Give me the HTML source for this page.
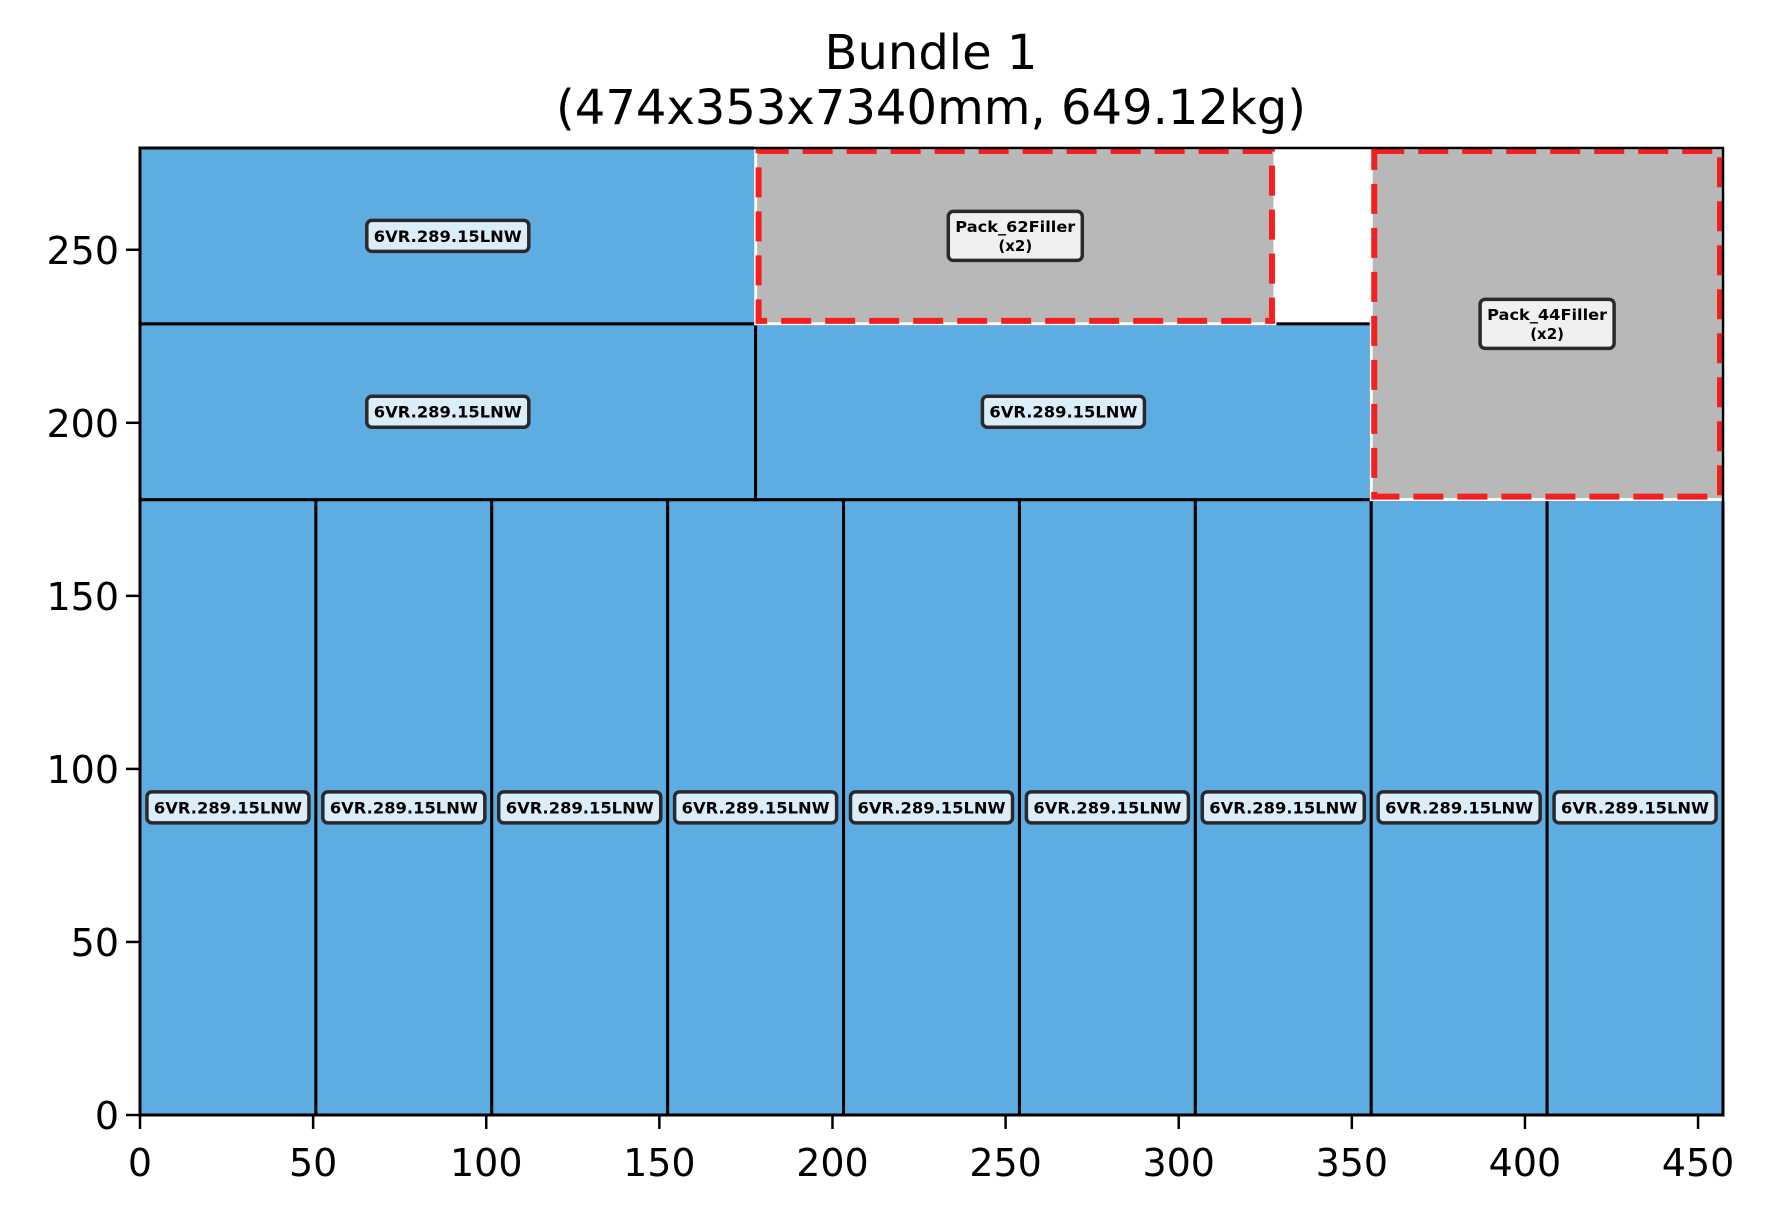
<!DOCTYPE html>
<html><head><meta charset="utf-8"><style>
html,body{margin:0;padding:0;background:#fff;}
svg{display:block;font-family:"DejaVu Sans","Liberation Sans",sans-serif;}
</style></head><body>
<svg id="chart" width="1767" height="1217" viewBox="0 0 1767 1217" xmlns="http://www.w3.org/2000/svg">
<text x="931" y="69" font-size="48" text-anchor="middle">Bundle 1</text>
<text x="931" y="124" font-size="48" text-anchor="middle">(474x353x7340mm, 649.12kg)</text>
<g id="plot"></g>
</svg>
<script>
const itemNames = ["6VR.289.15LNW","6VR.289.15LNW","6VR.289.15LNW","6VR.289.15LNW","6VR.289.15LNW","6VR.289.15LNW","6VR.289.15LNW","6VR.289.15LNW","6VR.289.15LNW","6VR.289.15LNW","6VR.289.15LNW","6VR.289.15LNW"];
const itemX = [0,50.8,101.6,152.4,203.2,254,304.8,355.6,406.4,0,177.8,0];
const itemY = [0,0,0,0,0,0,0,0,0,177.8,177.8,228.6];
const itemW = [50.8,50.8,50.8,50.8,50.8,50.8,50.8,50.8,50.8,177.8,177.8,177.8];
const itemH = [177.8,177.8,177.8,177.8,177.8,177.8,177.8,177.8,177.8,50.8,50.8,50.8];
const fillerNames = ["Pack_62Filler","Pack_44Filler"];
const fillerX = [177.8,355.6];
const fillerY = [228.6,177.8];
const fillerW = [150,101.6];
const fillerH = [50.8,101.6];
const xTicks = [0,50,100,150,200,250,300,350,400,450];
const yTicks = [0,50,100,150,200,250];
const xMax = 457.2, yMax = 279.4;

const L=140,R=1723,T=148,B=1115;
const sx=v=>L+v/xMax*(R-L);
const sy=v=>B-v/yMax*(B-T);
const NS="http://www.w3.org/2000/svg";
const g=document.getElementById('plot');
function mk(tag,attrs,parent){const e=document.createElementNS(NS,tag);for(const k in attrs)e.setAttribute(k,attrs[k]);(parent||g).appendChild(e);return e;}

function label(lines,cx,cy,fill,name,tl){
  const lh=19, h=lines.length===1?31:49, w=tl+14;
  const r=mk('rect',{x:cx-w/2,y:cy-h/2,width:w,height:h,rx:5,fill:fill,stroke:'#2a2a2a','stroke-width':3.5});
  
  
  lines.forEach((ln,i)=>{
    const y=cy+(i-(lines.length-1)/2)*lh+ (lines.length===1?6:5.5);
    const t=mk('text',{x:cx,y:y,'font-size':lines.length===1?16:15,'font-weight':'bold','text-anchor':'middle',fill:'#000'});
    if(i===0){t.setAttribute('textLength',tl);t.setAttribute('lengthAdjust','spacingAndGlyphs');}
    t.textContent=ln;
    
    
  });
}

for(let i=0;i<itemNames.length;i++){
  const r=mk('rect',{x:sx(itemX[i]),y:sy(itemY[i]+itemH[i]),width:sx(itemX[i]+itemW[i])-sx(itemX[i]),height:sy(itemY[i])-sy(itemY[i]+itemH[i]),fill:'#5dade2',stroke:'#000','stroke-width':3});
  
  
}
for(let i=0;i<fillerNames.length;i++){
  const x0=sx(fillerX[i]),x1=sx(fillerX[i]+fillerW[i]),y0=sy(fillerY[i]+fillerH[i]),y1=sy(fillerY[i]);
  const r=mk('rect',{x:x0,y:y0,width:x1-x0,height:y1-y0,fill:'#b8b8b8',stroke:'#ffffff','stroke-width':3});
  
  
  const d=mk('rect',{x:x0+3,y:y0+3,width:x1-x0-6,height:y1-y0-6,fill:'none',stroke:'#f22020','stroke-width':6,'stroke-dasharray':'30 14'});
  
  
}
for(let i=0;i<itemNames.length;i++){
  label([itemNames[i]],sx(itemX[i]+itemW[i]/2),sy(itemY[i]+itemH[i]/2),'#dcedfa','item-label-'+(i+1),148);
}
for(let i=0;i<fillerNames.length;i++){
  label([fillerNames[i],'(x2)'],sx(fillerX[i]+fillerW[i]/2),sy(fillerY[i]+fillerH[i]/2),'#f0f0f0','filler-label-'+(i+1),120);
}
const fr=mk('rect',{x:L,y:T,width:R-L,height:B-T,fill:'none',stroke:'#000','stroke-width':2.5});


xTicks.forEach(v=>{
  const l=mk('line',{x1:sx(v),x2:sx(v),y1:B,y2:B+14,stroke:'#000','stroke-width':2.5});
  
  
  const t=mk('text',{x:sx(v),y:1176,'font-size':38,'text-anchor':'middle'});
  t.textContent=v;
  
  
});
yTicks.forEach(v=>{
  const l=mk('line',{x1:L-14,x2:L,y1:sy(v),y2:sy(v),stroke:'#000','stroke-width':2.5});
  
  
  const t=mk('text',{x:L-21,y:sy(v)+14,'font-size':38,'text-anchor':'end'});
  t.textContent=v;
  
  
});
</script>
</body></html>
